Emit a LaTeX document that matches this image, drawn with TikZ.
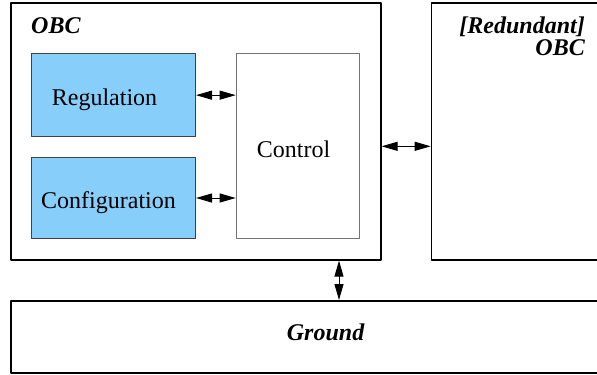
\documentclass[tikz,border=0pt]{standalone}
\usepackage{fontspec}
\setmainfont{Liberation Serif}
\usetikzlibrary{arrows.meta}
\definecolor{boxblue}{RGB}{135,206,250}
\tikzset{
	outerbox/.style={draw=black,line width=1.6bp,inner sep=0pt,anchor=north west},
	innerbox/.style={draw=black!75,line width=1bp,fill=boxblue,inner sep=0pt,anchor=north west},
	ctrlbox/.style={draw=black!55,line width=1bp,inner sep=0pt,anchor=north west},
	label/.style={inner sep=0pt,font=\fontsize{24bp}{28bp}\selectfont},
	title/.style={label,font=\fontsize{24bp}{28bp}\selectfont\bfseries\itshape}
}
\begin{document}
\begin{tikzpicture}[line cap=round,line join=round,>={Triangle[length=16bp,width=9bp]},x=1bp,y=-1bp]
		\useasboundingbox (0,0) rectangle (597,374);
		\clip (0,0) rectangle (597,374);
		% boxes
		\node[outerbox,minimum width=370bp,minimum height=257bp] (obc) at (10,2) {};
		\node[outerbox,minimum width=220bp,minimum height=257bp] (red) at (430.7,2) {};
		\node[outerbox,minimum width=640bp,minimum height=72bp] (gnd) at (10,300) {};
		\node[innerbox,minimum width=164.3bp,minimum height=82.7bp] (reg) at (30.7,53.3) {};
		\node[innerbox,minimum width=164.3bp,minimum height=81.6bp] (conf) at (30.7,156.7) {};
		\node[ctrlbox,minimum width=123.6bp,minimum height=185bp] (ctrl) at (235.7,53.3) {};
		\coordinate (bus) at (339,280);
		% texts
		\node[title,anchor=base west] (obc label) at (31,33.3) {OBC};
		\node[title,anchor=base east] (red label) at (585,33.3) {[Redundant]};
		\node[title,anchor=base east] (red label2) at (585,55) {OBC};
		\node[title,anchor=base west] (gnd label) at (286.7,340) {Ground};
		\node[label,anchor=base west] (reg label) at (51.7,105) {Regulation};
		\node[label,anchor=base west] (conf label) at (41,208.3) {Configuration};
		\node[label,anchor=base west] (ctrl label) at (256.7,157.3) {Control};
		% links
		\draw [line width=1bp,<->] (reg.east) -- (reg.east -| ctrl.west);
		\draw [line width=1bp,<->] (conf.east) -- (conf.east -| ctrl.west);
		\draw [line width=1bp,<->] (obc.east |- ctrl.east) -- (red.west |- ctrl.east);
		\draw [line width=1bp,<->] (obc.south -| bus) -- (gnd.north -| bus);
	\end{tikzpicture}
\end{document}
